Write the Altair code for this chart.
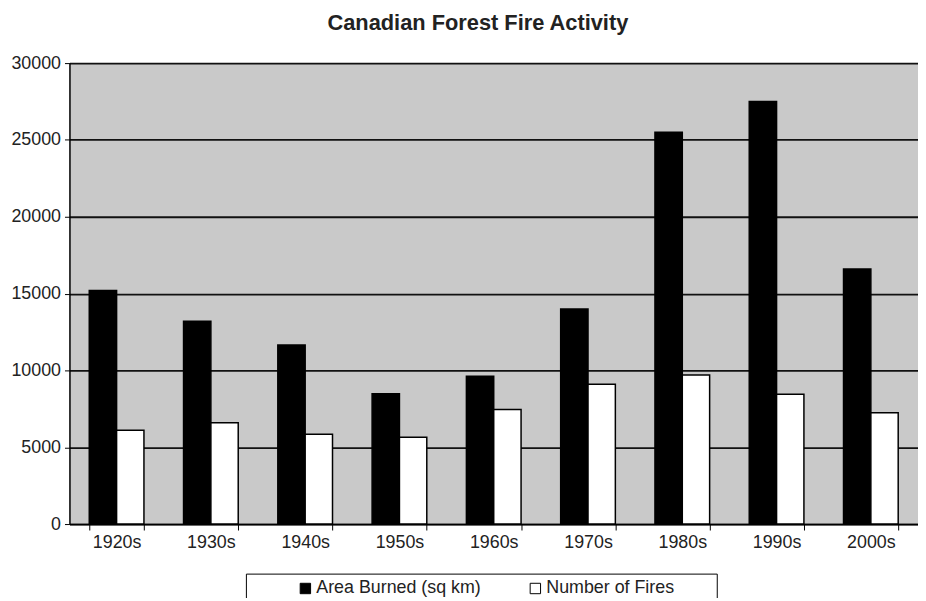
import altair as alt
import pandas as pd

decades = ["1920s", "1930s", "1940s", "1950s", "1960s", "1970s", "1980s", "1990s", "2000s"]
area_burned = [15200, 13200, 11650, 8480, 9620, 14000, 25500, 27500, 16600]
num_fires = [6100, 6600, 5850, 5650, 7450, 9100, 9700, 8450, 7250]
series_names = ["Area Burned (sq km)", "Number of Fires"]
series_colors = ["#000000", "#ffffff"]
y_ticks = [0, 5000, 10000, 15000, 20000, 25000, 30000]

rows = []
for d, a, n in zip(decades, area_burned, num_fires):
    rows.append({"decade": d, "series": series_names[0], "value": a})
    rows.append({"decade": d, "series": series_names[1], "value": n})
df = pd.DataFrame(rows)

FONT = "Liberation Sans"

chart = alt.Chart(df).mark_bar(stroke="#000000", strokeWidth=1.5).encode(
    x=alt.X("decade:N", sort=decades, title=None,
            scale=alt.Scale(paddingInner=0.42, paddingOuter=0.21),
            axis=alt.Axis(labelAngle=0, tickBand="extent", labelFont=FONT, labelFontSize=18,
                          labelColor="#222222", tickColor="#000000", tickSize=6,
                          domainColor="#000000", domainWidth=1.5, labelPadding=4, grid=False)),
    xOffset=alt.XOffset("series:N", sort=series_names, scale=alt.Scale(paddingInner=0, paddingOuter=0)),
    y=alt.Y("value:Q", title=None,
            scale=alt.Scale(domain=[0, 30000], nice=False),
            axis=alt.Axis(values=y_ticks, format="d", labelFont=FONT, labelFontSize=18,
                          labelColor="#222222", tickColor="#000000", tickSize=5,
                          domainColor="#000000", domainWidth=1.5, labelPadding=4,
                          grid=True, gridColor="#111111", gridWidth=1.8)),
    color=alt.Color("series:N", sort=series_names,
                    scale=alt.Scale(domain=series_names, range=series_colors),
                    legend=alt.Legend(title="\u00a0", titleOrient="right", titlePadding=37,
                                      titleFont=FONT, titleFontSize=18,
                                      orient="none", direction="horizontal",
                                      legendX=178, legendY=515,
                                      strokeColor="#000000", fillColor="#ffffff", padding=6,
                                      symbolType="square", symbolSize=110,
                                      symbolStrokeColor="#000000", symbolStrokeWidth=1,
                                      symbolOffset=45, columnPadding=-3,
                                      labelFont=FONT, labelFontSize=18, labelColor="#222222",
                                      labelOffset=2, labelLimit=400)),
).properties(
    width=856,
    height=465,
    padding={"left": 62, "top": 53, "right": 0, "bottom": 72},
    autosize=alt.AutoSizeParams(type="none"),
    title=alt.TitleParams("Canadian Forest Fire Activity", font=FONT, fontSize=22, fontWeight="bold",
                          color="#222222", anchor="middle", frame="group", baseline="alphabetic",
                          offset=2, dx=-16),
).configure(
    background="#ffffff"
).configure_view(
    fill="#c9c9c9", stroke=None
)

chart.save("out.html", embed_options={"renderer": "svg", "actions": False})
